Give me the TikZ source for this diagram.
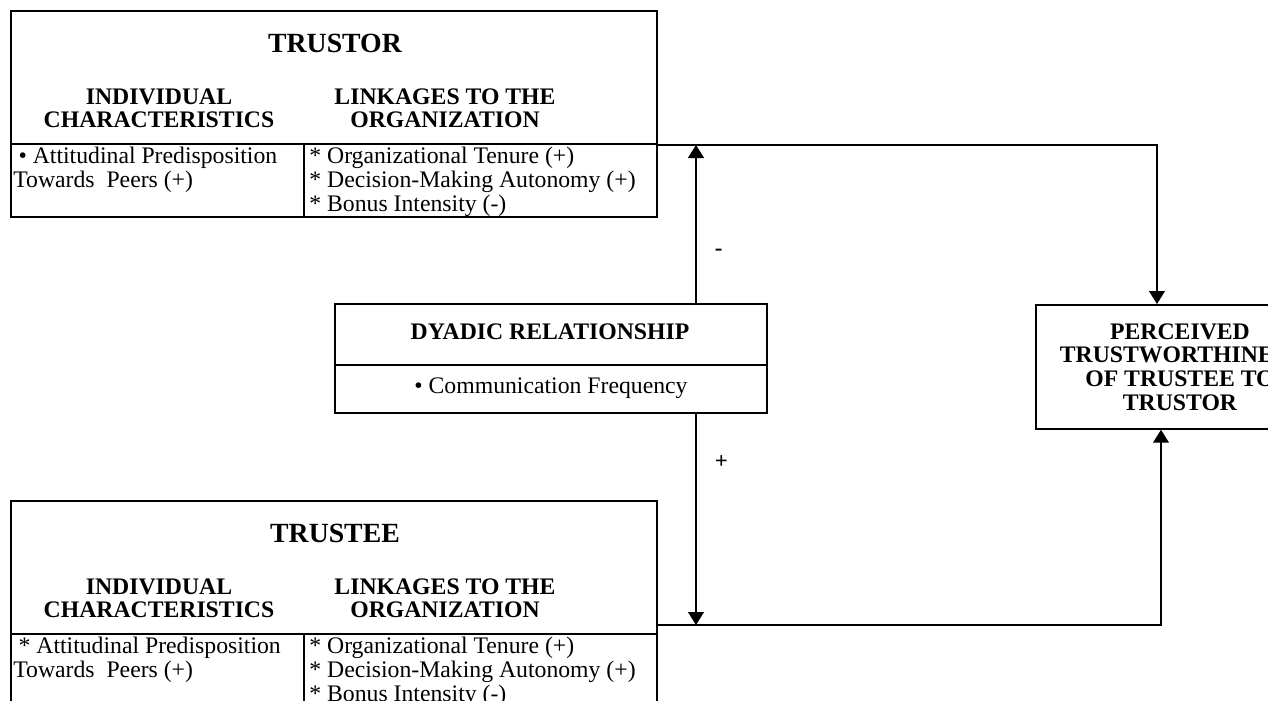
\documentclass[tikz,border=0pt]{standalone}
\usepackage{fontspec}
\setmainfont{Liberation Serif}
\usetikzlibrary{arrows.meta}
\tikzset{
    frame/.style={draw, line width=1pt, inner sep=0pt, anchor=north west},
    rule/.style={line width=1pt},
    title/.style={font=\fontsize{15.8}{16}\selectfont\bfseries, inner sep=0pt},
    head/.style={font=\fontsize{13.5}{13}\selectfont\bfseries, align=center, inner sep=0pt},
    item/.style={font=\fontsize{13.5}{13.5}\selectfont, align=left, anchor=north west, inner sep=0pt},
    link/.style={line width=0.9pt, -{Triangle[length=7.4pt,width=9pt]}},
    sign/.style={font=\fontsize{13}{13}\selectfont\bfseries, right=7pt},
}
\newcommand{\PartyBox}[5]{
    \node[frame, minimum width=12.92cm, minimum height={#3*0.02cm}] (#1) at (10,#2) {};
    \draw[rule] (10,#2+134) -- (656,#2+134);
    \draw[rule] (304,#2+134) -- (304,#2+#3);
    \node[title] (#1-title) at (335,#2+33) {#4};
    \node[head] (#1-indiv) at (159,#2+98) {INDIVIDUAL\\CHARACTERISTICS};
    \node[head] (#1-org) at (445,#2+98) {LINKAGES TO THE\\ORGANIZATION};
    \node[item] (#1-traits) at (13,#2+137) {\hspace{3pt}#5 Attitudinal Predisposition\\Towards\ \ Peers (+)};
    \node[item] (#1-ties) at (309,#2+137) {* Organizational Tenure (+)\\* Decision-Making Autonomy (+)\\* Bonus Intensity (-)};
}
\begin{document}
\begin{tikzpicture}[x=0.02cm, y=-0.02cm]
    \useasboundingbox (0,0) rectangle (1268,700);
    \clip (0,0) rectangle (1268,700);
    \PartyBox{trustor}{10}{206}{TRUSTOR}{\textbullet}
    \PartyBox{trustee}{500}{220}{TRUSTEE}{*}
    % dyadic relationship
    \node[frame, minimum width=8.64cm, minimum height=2.18cm] (dyadic) at (334,303) {};
    \draw[rule] (334,365) -- (766,365);
    \node[head] (dyadic-title) at (550,332) {DYADIC RELATIONSHIP};
    \node[item, anchor=center] (dyadic-item) at (551,388) {\textbullet{} Communication Frequency};
    % outcome
    \node[frame, minimum width=5.8cm, minimum height=2.48cm] (perceived) at (1035,304) {};
    \node[head, font=\fontsize{13.5}{13.4}\selectfont\bfseries] (perceived-text) at (1180,367) {PERCEIVED\\TRUSTWORTHINESS\\OF TRUSTEE TO\\TRUSTOR};
    \coordinate (topjoin) at (696,145);
    \coordinate (topturn) at (1157,145);
    \coordinate (botjoin) at (696,625);
    \coordinate (botturn) at (1161,625);
    \draw[link] (trustor.north east |- topturn) -- (topturn) -- (perceived.north -| topturn);
    \draw[link] (trustee.north east |- botturn) -- (botturn) -- (perceived.south -| botturn);
    \draw[link] (dyadic.north -| topjoin) -- node[sign, pos=0.32] (minus) {-} (topjoin);
    \draw[link] (dyadic.south -| botjoin) -- node[sign, pos=0.23] (plus) {+} (botjoin);
\end{tikzpicture}
\end{document}
